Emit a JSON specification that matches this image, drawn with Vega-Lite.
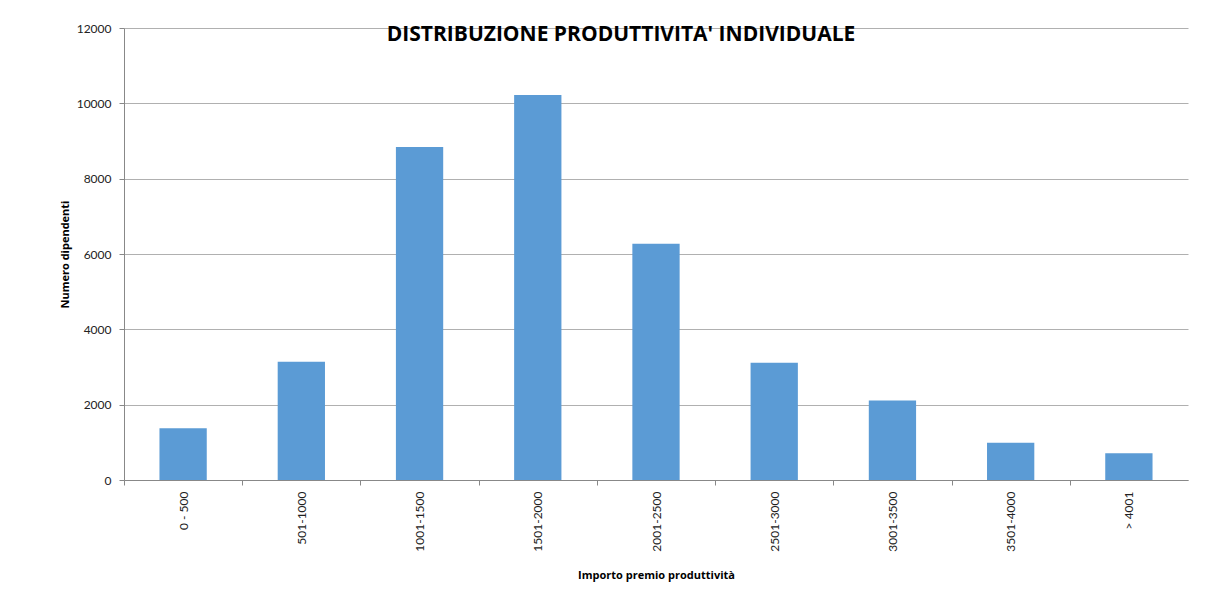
{
  "$schema": "https://vega.github.io/schema/vega-lite/v6.json",
  "width": 1064,
  "height": 452,
  "padding": {"left": 124, "top": 28, "right": 44, "bottom": 111},
  "autosize": {"type": "none"},
  "background": "white",
  "title": {
    "text": "DISTRIBUZIONE PRODUTTIVITA' INDIVIDUALE",
    "frame": "group",
    "anchor": "middle",
    "dx": -35,
    "offset": -15,
    "dy": 25,
    "baseline": "alphabetic",
    "font": "Open Sans",
    "fontSize": 21,
    "fontWeight": "bold",
    "color": "#000000"
  },
  "data": {
    "values": [
      {"fascia": "0 - 500", "dipendenti": 1375},
      {"fascia": "501-1000", "dipendenti": 3140},
      {"fascia": "1001-1500", "dipendenti": 8840},
      {"fascia": "1501-2000", "dipendenti": 10220},
      {"fascia": "2001-2500", "dipendenti": 6270},
      {"fascia": "2501-3000", "dipendenti": 3110},
      {"fascia": "3001-3500", "dipendenti": 2110},
      {"fascia": "3501-4000", "dipendenti": 990},
      {"fascia": "> 4001", "dipendenti": 710}
    ]
  },
  "mark": {"type": "bar", "color": "#5B9BD5"},
  "encoding": {
    "x": {
      "field": "fascia",
      "type": "nominal",
      "sort": null,
      "scale": {"paddingInner": 0.6, "paddingOuter": 0.3},
      "axis": {
        "title": "Importo premio produttività",
        "titleFont": "Open Sans",
        "titleFontSize": 11,
        "titleFontWeight": "bold",
        "titleColor": "#000000",
        "titlePadding": 18,
        "labelAngle": -90,
        "labelFont": "Lato",
        "labelFontSize": 12,
        "labelColor": "#222222",
        "labelPadding": 6,
        "tickOffset": -59.11,
        "labelOffset": 59.11,
        "tickSize": 5,
        "tickColor": "#888888",
        "domainColor": "#888888",
        "grid": false
      }
    },
    "y": {
      "field": "dipendenti",
      "type": "quantitative",
      "scale": {"domain": [0, 12000], "nice": false},
      "axis": {
        "title": "Numero dipendenti",
        "titleFont": "Open Sans",
        "titleFontSize": 11,
        "titleFontWeight": "bold",
        "titleColor": "#000000",
        "titlePadding": 6,
        "values": [0, 2000, 4000, 6000, 8000, 10000, 12000],
        "format": "d",
        "labelFont": "Lato",
        "labelFontSize": 12,
        "labelColor": "#222222",
        "labelPadding": 8,
        "tickSize": 5,
        "tickColor": "#888888",
        "domainColor": "#888888",
        "gridColor": "#B0B0B0",
        "gridWidth": 1
      }
    }
  },
  "config": {"view": {"stroke": null}}
}
